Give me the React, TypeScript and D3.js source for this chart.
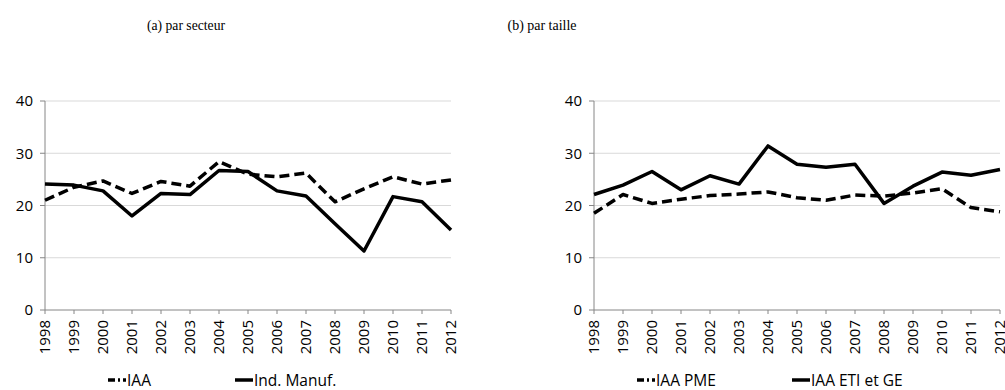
import React from "react";
import * as d3 from "d3";

const years = [1998, 1999, 2000, 2001, 2002, 2003, 2004, 2005, 2006, 2007, 2008, 2009, 2010, 2011, 2012];
const yTicks = [0, 10, 20, 30, 40];

// (a) par secteur
const iaa = [21.0, 23.5, 24.7, 22.3, 24.6, 23.7, 28.4, 26.0, 25.5, 26.2, 20.7, 23.2, 25.5, 24.1, 24.9];
const indManuf = [24.1, 23.9, 22.8, 18.0, 22.3, 22.1, 26.7, 26.5, 22.8, 21.8, 16.5, 11.3, 21.7, 20.7, 15.3];

// (b) par taille
const iaaPme = [18.5, 22.1, 20.4, 21.2, 21.9, 22.2, 22.6, 21.5, 21.0, 22.0, 21.8, 22.4, 23.2, 19.6, 18.8];
const iaaEti = [22.1, 23.9, 26.5, 23.0, 25.7, 24.1, 31.4, 27.9, 27.3, 27.9, 20.4, 23.7, 26.4, 25.8, 26.9];

const TICK_FONT = "'Open Sans', 'Liberation Sans', sans-serif";
const DASH = "10,5";

type Series = { name: string; values: number[]; dashed: boolean };

type PanelProps = {
  x0: number;
  x1: number;
  title: string;
  titleX: number;
  titleW: number;
  series: Series[];
  legendX: number[];
};

function Panel({ x0, x1, title, titleX, titleW, series, legendX }: PanelProps) {
  const x = d3.scaleLinear().domain([years[0], years[years.length - 1]]).range([x0, x1]);
  const y = d3.scaleLinear().domain([0, 40]).range([310, 101]);
  const line = d3
    .line<number>()
    .x((_, i) => x(years[i]))
    .y((d) => y(d));

  return (
    <g>
      <text
        x={titleX - titleW / 2}
        y={30}
        textLength={titleW}
        lengthAdjust="spacingAndGlyphs"
        fontFamily="'Liberation Serif', 'Times New Roman', serif"
        fontSize={15.5}
        fill="#000"
      >
        {title}
      </text>
      {yTicks.map((t) => (
        <g key={t}>
          {t > 0 && <line x1={x0} x2={x1} y1={y(t)} y2={y(t)} stroke="#d9d9d9" strokeWidth={1} />}
          <line x1={x0 - 5} x2={x0} y1={y(t)} y2={y(t)} stroke="#868686" strokeWidth={1} />
          <text x={x0 - 12} y={y(t)} dy="0.35em" textAnchor="end" fontFamily={TICK_FONT} fontSize={15} fill="#000">
            {t}
          </text>
        </g>
      ))}
      <line x1={x0} x2={x0} y1={y(40)} y2={y(0)} stroke="#868686" strokeWidth={1} />
      <line x1={x0} x2={x1} y1={y(0)} y2={y(0)} stroke="#868686" strokeWidth={1} />
      {years.map((yr) => (
        <g key={yr}>
          <line x1={x(yr)} x2={x(yr)} y1={y(0)} y2={y(0) + 4} stroke="#868686" strokeWidth={1} />
          <text
            transform={`translate(${x(yr)},${y(0) + 10}) rotate(-90)`}
            dy="0.35em"
            textAnchor="end"
            fontFamily={TICK_FONT}
            fontSize={15}
            fill="#000"
          >
            {yr}
          </text>
        </g>
      ))}
      {series.map((s) => (
        <path
          key={s.name}
          d={line(s.values) || ""}
          fill="none"
          stroke="#000"
          strokeWidth={3.5}
          strokeDasharray={s.dashed ? DASH : undefined}
          strokeLinejoin="round"
        />
      ))}
      {series.map((s, i) => (
        <g key={s.name} transform={`translate(${legendX[i]},380)`}>
          <line
            x1={0}
            x2={18}
            y1={0}
            y2={0}
            stroke="#000"
            strokeWidth={3.5}
            strokeDasharray={s.dashed ? "7,3,2,3" : undefined}
          />
          <text x={19} y={0} dy="0.36em" fontFamily={TICK_FONT} fontSize={15.5} fill="#000">
            {s.name}
          </text>
        </g>
      ))}
    </g>
  );
}

export default function App() {
  return (
    <div style={{ position: "absolute", left: 0, top: 0 }}>
      <svg width={1005} height={390} style={{ display: "block", background: "#fff" }}>
        <Panel
          x0={45}
          x1={451}
          title="(a) par secteur"
          titleX={186}
          titleW={78}
          series={[
            { name: "IAA", values: iaa, dashed: true },
            { name: "Ind. Manuf.", values: indManuf, dashed: false },
          ]}
          legendX={[108, 235]}
        />
        <Panel
          x0={594}
          x1={1000}
          title="(b) par taille"
          titleX={542}
          titleW={69}
          series={[
            { name: "IAA PME", values: iaaPme, dashed: true },
            { name: "IAA ETI et GE", values: iaaEti, dashed: false },
          ]}
          legendX={[637, 792]}
        />
      </svg>
    </div>
  );
}
